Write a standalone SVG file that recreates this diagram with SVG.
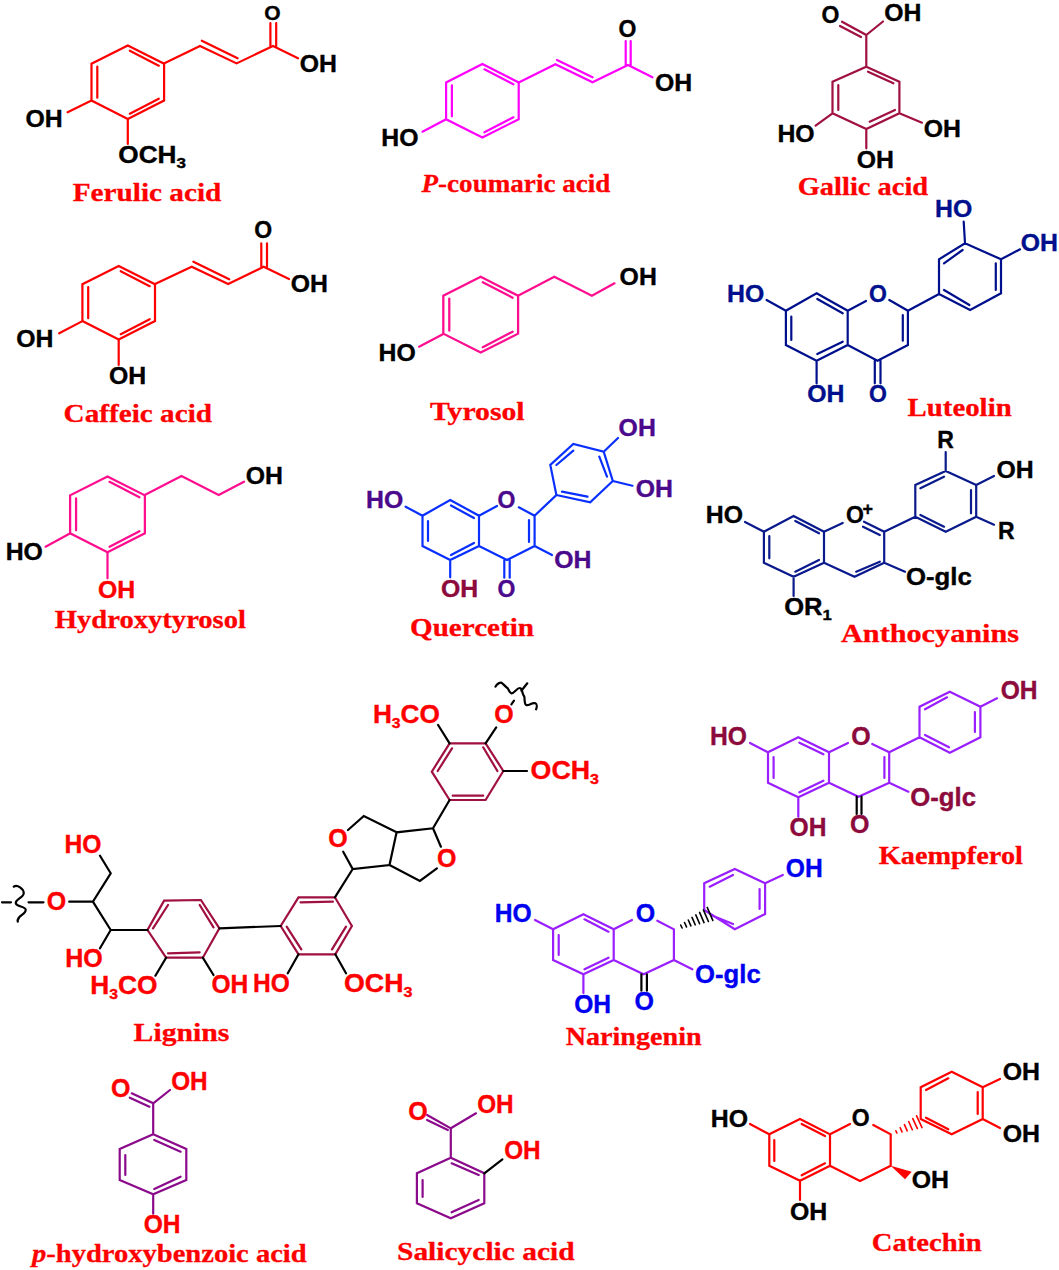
<svg xmlns="http://www.w3.org/2000/svg" xmlns:xlink="http://www.w3.org/1999/xlink" width="1059" height="1270" viewBox="0 0 1059 1270">
<style>
path{fill:none;stroke-width:2.2;stroke-linejoin:miter;stroke-linecap:round}
.blk{stroke:#000}.red{stroke:#f00}.mag{stroke:#f0f}.pnk{stroke:#ff0d8f}.mar{stroke:#a01040}.nav{stroke:#00108c}.blu{stroke:#0a30ff}.ant{stroke:#0a1a8c}.pur{stroke:#9a1fff}.vio{stroke:#8b0a8b}
text{font-family:"Liberation Sans",Arial,sans-serif;font-weight:700;font-size:23px;fill:#000;stroke:#000;stroke-width:.35}
.b{font-size:25px}
.s{font-size:15px}
.e{font-size:21px}
.l{font-family:"Liberation Serif","Times New Roman",serif;font-size:26px;fill:#f00;stroke:#f00;stroke-width:.3}
.fr{fill:#f00;stroke:#f00}.fn{fill:#00108c;stroke:#00108c}.fi{fill:#4b0a8c;stroke:#4b0a8c}.fm{fill:#8c0a3c;stroke:#8c0a3c}.fb{fill:#0000f0;stroke:#0000f0}
.i{font-style:italic}
.p{font-size:18px}
</style>
<defs>
<path id="ringA" d="M0,-36.8L36.3,-18.4V18.4L0,36.8L-36.3,18.4V-18.4ZM2,-31.5L31,-16.5M31,16.5L2,31.5M-30.5,-15.5V15.5"/>
</defs>
<rect width="1059" height="1270" fill="#fff"/>

<g id="ferulic-acid">
<use xlink:href="#ringA" href="#ringA" x="127.8" y="82.2" class="red"/>
<path class="red" d="M163.9,63.4L200,46L236.6,63.4L273,46L298,58.3M201.8,40.7L237.6,58.3M270.4,23V46M276.2,23V46M91.5,100.6L67.6,112.3M127.8,119V144"/>
<text class="e" x="264.2" y="19.6">O</text>
<text x="299.8" y="71.7" textLength="37.2" lengthAdjust="spacingAndGlyphs">OH</text>
<text x="25.4" y="126.7" textLength="37.2" lengthAdjust="spacingAndGlyphs">OH</text>
<text x="118.3" y="163.3" textLength="67.7" lengthAdjust="spacingAndGlyphs">OCH<tspan class="s" dy="5">3</tspan></text>
<text class="l" x="72.7" y="201" textLength="148.7" lengthAdjust="spacingAndGlyphs">Ferulic acid</text>
</g>

<g id="p-coumaric-acid">
<use xlink:href="#ringA" href="#ringA" x="482.4" y="100.8" class="mag"/>
<path class="mag" d="M518.7,82.4L555.4,64.3L592.5,82.3L628,65L652.4,77.3M557,60L592.5,77.3M625.7,41V65M630.7,41V65M446.1,119.2L422.5,131.7"/>
<text x="618.6" y="36.7">O</text>
<text x="655" y="90.7" textLength="37.2" lengthAdjust="spacingAndGlyphs">OH</text>
<text x="381.3" y="145.7" textLength="37.2" lengthAdjust="spacingAndGlyphs">HO</text>
<text class="l" x="421.5" y="191.7" textLength="188.9" lengthAdjust="spacingAndGlyphs"><tspan class="i">P</tspan>-coumaric acid</text>
</g>

<g id="gallic-acid">
<path class="mar" d="M866.3,66.7L899.4,81.7V113.3L866.3,129L832.5,113.3V81.7ZM868,71.7L893.4,83.3M895,110L869.7,121.7M838.3,85V110M866.3,66.7V35L842,21.7M861,37L840,26M866.3,35L883,21.5M832.5,113.3L815.6,125.7M899.4,113.3L922,122.7M866.3,129V148.3"/>
<text x="821.4" y="23.3">O</text>
<text x="884.2" y="20.7" textLength="37.2" lengthAdjust="spacingAndGlyphs">OH</text>
<text x="777.4" y="141.7" textLength="37.2" lengthAdjust="spacingAndGlyphs">HO</text>
<text x="923.8" y="136.7" textLength="37.2" lengthAdjust="spacingAndGlyphs">OH</text>
<text x="856.8" y="167.7" textLength="37.2" lengthAdjust="spacingAndGlyphs">OH</text>
<text class="l" x="797.7" y="195" textLength="130.5" lengthAdjust="spacingAndGlyphs">Gallic acid</text>
</g>

<g id="caffeic-acid">
<use xlink:href="#ringA" href="#ringA" x="118.7" y="302.7" class="red"/>
<path class="red" d="M155,284L191.7,266.7L228.2,284L263.7,266.7L289,279M193.4,261.7L229.2,279.3M261.3,243.3V266.7M267,243.3V266.7M82.4,321.1L59.2,333.3M118.7,339.5V365"/>
<text x="254.2" y="238.3">O</text>
<text x="290.7" y="292.3" textLength="37.2" lengthAdjust="spacingAndGlyphs">OH</text>
<text x="16.2" y="347.3" textLength="37.2" lengthAdjust="spacingAndGlyphs">OH</text>
<text x="108.9" y="384" textLength="37.2" lengthAdjust="spacingAndGlyphs">OH</text>
<text class="l" x="63.6" y="421.7" textLength="148.4" lengthAdjust="spacingAndGlyphs">Caffeic acid</text>
</g>

<g id="tyrosol">
<use xlink:href="#ringA" href="#ringA" transform="translate(480.7,314.7) scale(1.03)" class="pnk"/>
<path class="pnk" d="M518,295.7L554.3,276.7L591.9,295.7L614.5,283.3M443.3,334L419.1,346.7"/>
<text x="619.6" y="285" textLength="37.2" lengthAdjust="spacingAndGlyphs">OH</text>
<text x="378.6" y="361" textLength="37.2" lengthAdjust="spacingAndGlyphs">HO</text>
<text class="l" x="430" y="420" textLength="94.6" lengthAdjust="spacingAndGlyphs">Tyrosol</text>
</g>

<g id="luteolin">
<path class="nav" d="M816.6,293.3L847.7,310.7V345L816.6,360.7L785.9,345V310.7ZM817.3,299L842.7,313.3M791.3,316.7V340M817.3,354L842.7,341.7M847.7,310.7L866,301M889.3,300L907.9,310.7V345L877.5,360.7L847.7,345M902.8,315V340.7M874.8,360.7V383.3M880.5,360.7V383.3M816.6,360.7V383.3M785.9,310.7L766.6,300M907.9,310.7L939,294V259.3L965,243.3L1001,259.3V293.3L970.1,310L939,294M944,263.3L962.6,250M995.8,263.3V290M944,290L969.4,305M965,243.3L963.7,221.7M1001,259.3L1020,249.3"/>
<text class="fn" x="869" y="301.7">O</text>
<text class="fn" x="869" y="401.7">O</text>
<text class="fn" x="807.2" y="401.7" textLength="37.2" lengthAdjust="spacingAndGlyphs">OH</text>
<text class="fn" x="727" y="301.7" textLength="37.2" lengthAdjust="spacingAndGlyphs">HO</text>
<text class="fn" x="935" y="216.7" textLength="37.2" lengthAdjust="spacingAndGlyphs">HO</text>
<text class="fn" x="1020.8" y="250.7" textLength="37.2" lengthAdjust="spacingAndGlyphs">OH</text>
<text class="l" x="907.5" y="416" textLength="104.2" lengthAdjust="spacingAndGlyphs">Luteolin</text>
</g>

<g id="hydroxytyrosol">
<use xlink:href="#ringA" href="#ringA" transform="translate(107.5,514.3) scale(1.03)" class="pnk"/>
<path class="pnk" d="M144.7,495L181.5,476L218.7,495L244,481.7M70.3,533.3L45.6,546.7M107.5,552.7V578.3"/>
<text x="245.7" y="484" textLength="37.2" lengthAdjust="spacingAndGlyphs">OH</text>
<text x="5.7" y="560" textLength="37.2" lengthAdjust="spacingAndGlyphs">HO</text>
<text class="fr" x="98" y="597.7" textLength="37.2" lengthAdjust="spacingAndGlyphs">OH</text>
<text class="l" x="54.8" y="628" textLength="191.2" lengthAdjust="spacingAndGlyphs">Hydroxytyrosol</text>
</g>

<g id="quercetin">
<path class="blu" d="M450.2,500L479,515.7V546L450.2,560L422.5,546V515.7ZM451,505.5L474,518M428,521V541M451,555L474,543M479,515.7L497,506M518.8,507.3L534.6,515.7V546L507,560L479,546M529,520V542M504.3,560V577.7M509.7,560V577.7M450.2,560V577.3M422.5,515.7L405.6,506.7M534.6,515.7L556.4,495L550.3,465L573.3,444L603.7,451.7L612.8,481L590.2,502.3L556.4,495M556.4,465L573.3,450.7M599.3,456.7L607,476.7M562,491.7L587.5,496.7M603.7,451.7L618,438M612.8,481L632.4,485.7M534.6,546L552,555"/>
<text class="fi" x="497.5" y="508.3">O</text>
<text class="fi" x="497.5" y="596.7">O</text>
<text class="fm" x="441" y="596.7" textLength="37.2" lengthAdjust="spacingAndGlyphs">OH</text>
<text class="fi" x="366" y="508.3" textLength="37.2" lengthAdjust="spacingAndGlyphs">HO</text>
<text class="fi" x="618.6" y="436" textLength="37.2" lengthAdjust="spacingAndGlyphs">OH</text>
<text class="fi" x="635.8" y="496.7" textLength="37.2" lengthAdjust="spacingAndGlyphs">OH</text>
<text class="fi" x="554.3" y="568.3" textLength="37.2" lengthAdjust="spacingAndGlyphs">OH</text>
<text class="l" x="410" y="636" textLength="124" lengthAdjust="spacingAndGlyphs">Quercetin</text>
</g>

<g id="anthocyanins">
<path class="ant" d="M793.6,516L824,531.7V562.7L793.6,576.7L763.9,562.7V531.7ZM795.3,521L819,533.3M769.3,536V558.3M795.3,571.7L819,560M824,531.7L842.7,523M864,521.7L884.2,531.7V562.7L854.5,576.7L824,562.7M863,526.7L879.8,535M879.8,561.7L856.2,571.7M884.2,531.7L915.3,516.7V485L945.7,471L976.2,485V516.7L945.7,531.7L915.3,516.7M920.4,488.3L944,476.7M971,490V513.3M920.4,515L944,526.7M945.7,471V452M976.2,485L994,476M976.2,516.7L994,524.7M884.2,562.7L905,571.7M793.6,576.7V596M763.9,531.7L745,522"/>
<text x="846" y="523.3">O</text>
<text class="p" x="862.5" y="515">+</text>
<text x="937.3" y="448.3">R</text>
<text x="996.4" y="478.3" textLength="37.2" lengthAdjust="spacingAndGlyphs">OH</text>
<text x="998" y="539">R</text>
<text x="905.9" y="585" textLength="65.9" lengthAdjust="spacingAndGlyphs">O-glc</text>
<text x="784.2" y="615" textLength="47.6" lengthAdjust="spacingAndGlyphs">OR<tspan class="s" dy="5">1</tspan></text>
<text x="705.8" y="523.3" textLength="37.2" lengthAdjust="spacingAndGlyphs">HO</text>
<text class="l" x="841" y="642" textLength="178" lengthAdjust="spacingAndGlyphs">Anthocyanins</text>
</g>

<g id="lignins">
<path class="mar" d="M164.1,900.7L200.9,900L219.4,928.3L202.8,957.7H166.1L147.5,930ZM168,905L153,928.3M199.7,905L213.5,927.3M168,953.3L199.7,952.3M298.5,897.3H334.9L351.9,926L335.3,954.3H298.5L280.7,926ZM300.5,902.3L332.9,901.7M346,926.7L332,949.3M286.7,926.7L301.3,949.3M449.6,743.3H485.6L503.3,771L485.6,800H449.6L431.8,771.7ZM437.7,771L452,748.3M497.4,771L483.2,747.3M452.7,795.7H483.2"/>
<path class="blk" d="M219.4,928.3L280.7,926M449.6,800L433,828.3L396.6,832.3L389.5,865L352.7,869L343.2,851.7M348,830L363.8,816L396.6,832.3M433,828.3L440.9,846.7M436.9,868.3L419.9,881L389.5,865M334.9,897.3L352.7,869M485.6,743.3L496.2,727.3M449.6,743.3L438.1,725M503.3,771H527M298.5,954.3L287.8,973.3M335.3,954.3L346,973.3M202.8,957.7L213.5,975M166.1,957.7L155.4,975.7M110.7,930L100,948.3M110.7,873.3L100,855.7M110.7,873.3L92.9,901.7L110.7,930H147.5M69.2,901.7H92.9M2,902.3H11M28.5,902.3H43.5M13.8,886.7C17,884 24,889 23.7,893.3C23.5,898 15,899 15.8,903.3C16.5,907 26,906 25.7,910C25.5,915 16,916 17.8,921.7M495.5,686.7C497,683 501,682 502.2,683.3C504,685 506,687 507.7,688.3C509,691 510,693 511.4,693.3C514,694 518,686 520.6,688.3C523,691 522,694 524.3,696.7C525,700 524,704 526.2,705C529,706 532,702 535.4,703.3C537,704 537,707 536.1,709.3M527.3,683.3L521.4,690.7M514,700.7L511.4,704.3"/>
<text class="fr b" x="328.2" y="846.7">O</text>
<text class="fr b" x="437" y="866.7">O</text>
<text class="fr b" x="494.3" y="723.3">O</text>
<text class="fr b" x="372.9" y="723.3" textLength="67" lengthAdjust="spacingAndGlyphs">H<tspan class="s" dy="5">3</tspan><tspan dy="-5">CO</tspan></text>
<text class="fr b" x="530.6" y="779.3" textLength="68.4" lengthAdjust="spacingAndGlyphs">OCH<tspan class="s" dy="5">3</tspan></text>
<text class="fr b" x="253" y="991.7" textLength="36.8" lengthAdjust="spacingAndGlyphs">HO</text>
<text class="fr b" x="344" y="991.7" textLength="68.4" lengthAdjust="spacingAndGlyphs">OCH<tspan class="s" dy="5">3</tspan></text>
<text class="fr b" x="211.5" y="993.3" textLength="36.8" lengthAdjust="spacingAndGlyphs">OH</text>
<text class="fr b" x="90.2" y="994.3" textLength="67.2" lengthAdjust="spacingAndGlyphs">H<tspan class="s" dy="5">3</tspan><tspan dy="-5">CO</tspan></text>
<text class="fr b" x="65.2" y="966.7" textLength="37.6" lengthAdjust="spacingAndGlyphs">HO</text>
<text class="fr b" x="64.5" y="852.7" textLength="37" lengthAdjust="spacingAndGlyphs">HO</text>
<text class="fr b" x="46.7" y="910">O</text>
<text class="l" x="133.6" y="1040.7" textLength="95.7" lengthAdjust="spacingAndGlyphs">Lignins</text>
</g>

<g id="kaempferol">
<path class="pur" d="M798.3,737.3L829,752.3V782.7L798.3,797.3L768,782.7V752.3ZM799.4,742.7L823.4,754.3M773.6,757V778M799.4,792.3L823.4,780.7M829,752.3L848,743M872.2,744L889.2,752.3V782.7L858.5,796.7L829,782.7M884.4,757V778M798.3,797.3V816.7M768,752.3L750,743M889.2,782.7L908.4,791.7M889.2,752.3L919.5,737.3V706.7L949.8,691.7L980.4,706.7V737.3L949.8,752.7L919.5,737.3M925,709.3L947,697.3M974.9,712V732M925,735L949,747.3M980.4,706.7L997,698.3"/>
<path class="blk" d="M856.7,796.7V814M861.5,796.7V814"/>
<text class="fm b" x="851.2" y="745">O</text>
<text class="fm b" x="850" y="833.3">O</text>
<text class="fm b" x="789.5" y="836" textLength="36.9" lengthAdjust="spacingAndGlyphs">OH</text>
<text class="fm b" x="710" y="745" textLength="37" lengthAdjust="spacingAndGlyphs">HO</text>
<text class="fm b" x="910.2" y="805.7" textLength="65.8" lengthAdjust="spacingAndGlyphs">O-glc</text>
<text class="fm b" x="1000.7" y="699.3" textLength="36.9" lengthAdjust="spacingAndGlyphs">OH</text>
<text class="l" x="878.8" y="864" textLength="144.1" lengthAdjust="spacingAndGlyphs">Kaempferol</text>
</g>

<g id="naringenin">
<path class="pur" d="M583.4,914.3L613.7,929.3V960L583.4,974.3L553.1,960V929.3ZM584.5,919.3L608.5,931.7M558.7,935V955M584.5,969.3L608.5,957.7M613.7,929.3L632,920M657.3,920.7L673.9,929.3V960L643.6,974.3L613.7,960M583.4,974.3V993M553.1,929.3L535,920M673.9,960L692.3,969.3M704.2,910V883.3L734.8,869L765.1,883.3V914L734.8,929.3L704.2,910M709.7,886.7L733,875M759.6,889V909M710.8,915L733,924M765.1,883.3L782.8,875"/>
<path class="blk" style="stroke-width:1.6" d="M680.7,925L682.1,928M684.5,922.5L686.5,926.9M688.3,920L690.9,925.8M692,917.4L695.2,924.8M695.8,914.9L699.6,923.7M699.6,912.4L704,922.6M703.4,909.9L708.4,921.5M707.2,907.4L712.8,920.4"/>
<path class="blk" d="M641.4,974.3V990.7M646.9,974.3V990.7"/>
<text class="fb b" x="635.8" y="921.7">O</text>
<text class="fb b" x="634.4" y="1010">O</text>
<text class="fb b" x="574.2" y="1012.7" textLength="36.9" lengthAdjust="spacingAndGlyphs">OH</text>
<text class="fb b" x="494.8" y="921.7" textLength="36.9" lengthAdjust="spacingAndGlyphs">HO</text>
<text class="fb b" x="695" y="982.7" textLength="65.7" lengthAdjust="spacingAndGlyphs">O-glc</text>
<text class="fb b" x="785.8" y="876.7" textLength="36.9" lengthAdjust="spacingAndGlyphs">OH</text>
<text class="l" x="565.7" y="1045" textLength="135.9" lengthAdjust="spacingAndGlyphs">Naringenin</text>
</g>

<g id="p-hydroxybenzoic-acid">
<path class="vio" d="M153.2,1134.3L186.3,1149V1180L153.2,1194.3L119.7,1180V1149ZM154.3,1140L180.6,1151.7M180.6,1176.7L154.3,1189M125.3,1155V1175M153.2,1134.3V1103.3L131.7,1093.3M149.4,1106.7L129.8,1097.7M153.2,1103.3L170,1090M153.2,1194.3V1213.7"/>
<text class="fr b" x="111" y="1096.7">O</text>
<text class="fr b" x="171.2" y="1090" textLength="36.5" lengthAdjust="spacingAndGlyphs">OH</text>
<text class="fr b" x="143.7" y="1233.3" textLength="36.9" lengthAdjust="spacingAndGlyphs">OH</text>
<text class="l" x="32" y="1262" textLength="274.7" lengthAdjust="spacingAndGlyphs"><tspan class="i">p</tspan>-hydroxybenzoic acid</text>
</g>

<g id="salicylic-acid">
<path class="vio" d="M450.8,1157.7L484.3,1173.3V1203.3L450.8,1218.3L416.9,1203.3V1173.3ZM451.6,1163.3L478.7,1175M478.7,1200L451.6,1212.3M422.6,1180V1197M450.8,1157.7V1128.3L427.1,1115M447.8,1130L427.1,1120M450.8,1128.3L476,1113.3"/>
<path class="blk" d="M484.3,1173.3L502.4,1159.3"/>
<text class="fr b" x="408.3" y="1120">O</text>
<text class="fr b" x="477.2" y="1112.7" textLength="36.5" lengthAdjust="spacingAndGlyphs">OH</text>
<text class="fr b" x="504.2" y="1159.3" textLength="36.5" lengthAdjust="spacingAndGlyphs">OH</text>
<text class="l" x="397" y="1260" textLength="177.6" lengthAdjust="spacingAndGlyphs">Salicyclic acid</text>
</g>

<g id="catechin">
<path class="red" d="M800,1119L830,1134.3V1165.7L800,1180.7L769.3,1165.7V1134.3ZM801.7,1124L825,1136M774.3,1140V1161M801.7,1175.3L825,1163.3M830,1134.3L850,1124M873.3,1125L890.7,1134.3V1165.7L860,1181L830,1165.7M920.7,1119V1087.3L951.7,1071.7L982.7,1087.3V1119L951.7,1134.3L920.7,1119M926,1090L948.3,1078.3M977.7,1092V1114M926,1117.7L948.3,1129.3M982.7,1087.3L1000,1079M982.7,1119L1000,1128M800,1180.7V1200M769.3,1134.3L750,1124"/>
<path class="red" style="stroke-width:1.6" d="M895.9,1130.8L896.9,1133M900.2,1127.7L902,1131.9M904.4,1124.6L907.2,1130.8M908.7,1121.5L912.3,1129.7M912.8,1118.6L917.4,1128.6M916.6,1115.8L922,1127.6"/>
<polygon points="890.7,1165.7 911.7,1171.7 905,1179.3" fill="#f00"/>
<text x="851.7" y="1126">O</text>
<text x="1002.7" y="1080" textLength="37.3" lengthAdjust="spacingAndGlyphs">OH</text>
<text x="1002.7" y="1141.7" textLength="37.3" lengthAdjust="spacingAndGlyphs">OH</text>
<text x="911.7" y="1188.3" textLength="37.3" lengthAdjust="spacingAndGlyphs">OH</text>
<text x="790" y="1220" textLength="37.3" lengthAdjust="spacingAndGlyphs">OH</text>
<text x="710.7" y="1126.7" textLength="37.3" lengthAdjust="spacingAndGlyphs">HO</text>
<text class="l" x="871.7" y="1251" textLength="110" lengthAdjust="spacingAndGlyphs">Catechin</text>
</g>
</svg>
